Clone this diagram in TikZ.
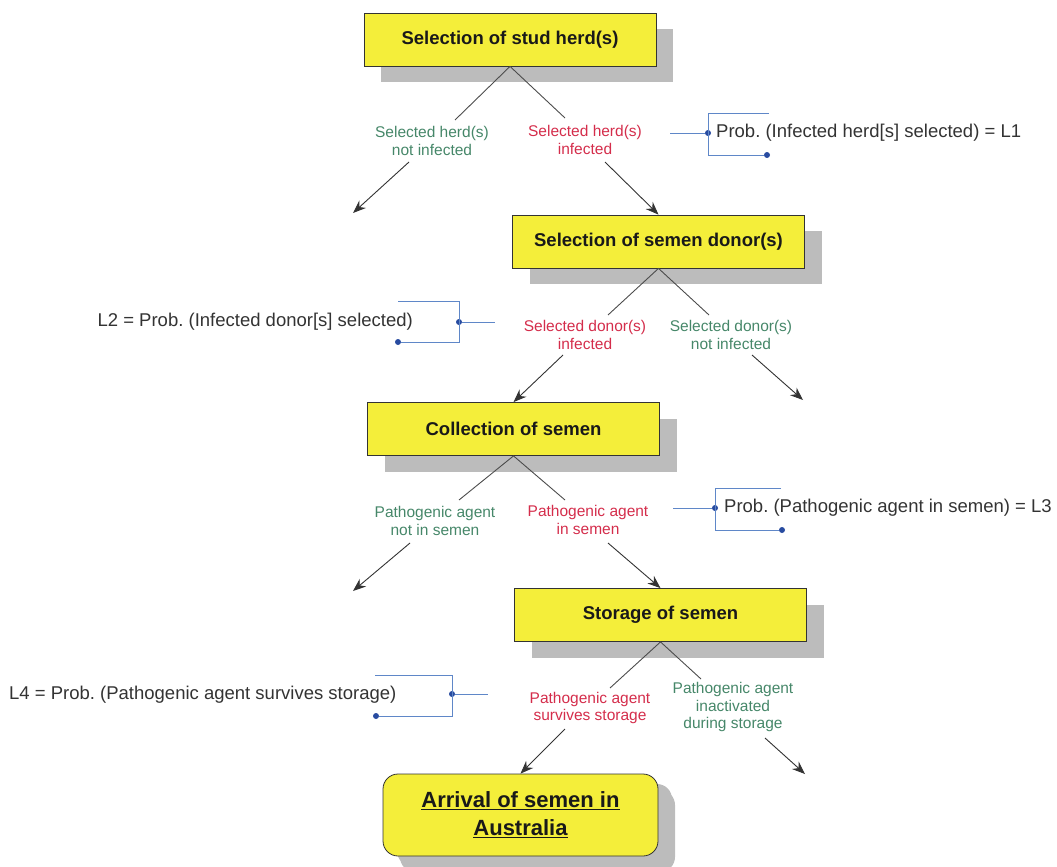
\documentclass[tikz,border=0pt]{standalone}
\usepackage{fontspec}
\setmainfont{Liberation Sans}
\usetikzlibrary{arrows.meta,shadows}
\frenchspacing

\definecolor{boxyellow}{RGB}{244,238,58}
\definecolor{greenlab}{RGB}{70,135,105}
\definecolor{redlab}{RGB}{212,45,75}
\definecolor{bracketblue}{RGB}{95,135,200}
\definecolor{dotblue}{RGB}{40,75,160}
\definecolor{shadowgray}{RGB}{188,188,188}

\tikzset{
  stage/.style={draw=black!80, line width=0.8pt, fill=boxyellow,
    minimum width=292pt, minimum height=53pt, inner sep=0pt,
    font=\bfseries\fontsize{18.5}{22}\selectfont, text=black!90,
    drop shadow={shadow xshift=17pt, shadow yshift=-16pt, fill=shadowgray, opacity=1}},
  lab/.style={align=center, inner sep=0pt, font=\fontsize{15.5}{17.5}\selectfont},
  yes/.style={lab, text=redlab},
  nope/.style={lab, text=greenlab},
  branch/.style={draw=black!70, line width=0.9pt},
  flow/.style={draw=black!80, line width=0.9pt, -{Stealth[length=13pt,width=10pt]}},
  brk/.style={draw=bracketblue, line width=0.8pt},
  bdot/.style={circle, fill=dotblue, inner sep=0pt, minimum size=6pt},
  note/.style={inner sep=0pt, font=\fontsize{18.5}{22}\selectfont, text=black!80},
}

\begin{document}
\begin{tikzpicture}[x=1pt, y=-1pt]
\useasboundingbox (0,0) rectangle (1057,867);

% stages of the pathway
\node[stage] (b1) at (510,39.5) {Selection of stud herd(s)};
\node[stage] (b2) at (658.5,241.5) {Selection of semen donor(s)};
\node[stage] (b3) at (513.5,429) {Collection of semen};
\node[stage] (b4) at (660.5,615) {Storage of semen};
\node[stage, rounded corners=15pt, minimum width=275pt, minimum height=82pt,
      font=\bfseries\fontsize{22}{28}\selectfont, align=center,
      drop shadow={shadow xshift=14pt, shadow yshift=-10pt, fill=shadowgray, opacity=1}]
  (b5) at (520.5,815) {\underline{Arrival of semen in}\\\underline{Australia}};

% outcomes of each stage
\node[nope] (l1n) at (432,141) {Selected herd(s)\\not infected};
\node[yes]  (l1y) at (585,140) {Selected herd(s)\\infected};
\node[yes]  (l2y) at (585,335) {Selected donor(s)\\infected};
\node[nope] (l2n) at (731,335) {Selected donor(s)\\not infected};
\node[nope] (l3n) at (435,521) {Pathogenic agent\\not in semen};
\node[yes]  (l3y) at (588,520) {Pathogenic agent\\in semen};
\node[yes]  (l4y) at (590,708) {Pathogenic agent\\survives storage};
\node[nope] (l4n) at (733,707) {Pathogenic agent\\inactivated\\during storage};

% branch ends and arrow starts
\coordinate (t1n) at (455,120);  \coordinate (t1y) at (565,118);
\coordinate (t2y) at (608,315);  \coordinate (t2n) at (709,315);
\coordinate (t3n) at (459,500);  \coordinate (t3y) at (565,500);
\coordinate (t4y) at (610,688);  \coordinate (t4n) at (701,679);

\coordinate (s1n) at (409,162);  \coordinate (e1n) at (353,213);
\coordinate (s1y) at (605,162);
\coordinate (s2y) at (563,355);
\coordinate (s2n) at (752,355);  \coordinate (e2n) at (803,400);
\coordinate (s3n) at (410,543);  \coordinate (e3n) at (353,591);
\coordinate (s3y) at (608,543);
\coordinate (s4y) at (565,729);
\coordinate (s4n) at (765,738);  \coordinate (e4n) at (805,774);

% branching lines
\draw[branch] (t1n) -- (b1.south) -- (t1y);
\draw[branch] (t2y) -- (b2.south) -- (t2n);
\draw[branch] (t3n) -- (b3.south) -- (t3y);
\draw[branch] (t4y) -- (b4.south) -- (t4n);

% arrows
\draw[flow] (s1n) -- (e1n);
\draw[flow] (s1y) -- (b2.north);
\draw[flow] (s2y) -- (b3.north);
\draw[flow] (s2n) -- (e2n);
\draw[flow] (s3n) -- (e3n);
\draw[flow] (s3y) -- (b4.north);
\draw[flow] (s4y) -- (b5.north);
\draw[flow] (s4n) -- (e4n);

% probability notes with brackets
% L1
\node[bdot] (d1m) at (708,133) {};
\node[bdot] (d1b) at (767,155) {};
\draw[brk] (670,133) -- (d1m);
\draw[brk] (769,113) -- (708,113) -- (708,155) -- (d1b);
\node[note, anchor=west] (p1) at (716,133) {Prob. (Infected herd[s] selected) = L1};

% L2
\node[bdot] (d2m) at (459,322) {};
\node[bdot] (d2b) at (398,342) {};
\draw[brk] (d2m) -- (495,322);
\draw[brk] (398,301) -- (459,301) -- (459,342) -- (d2b);
\node[note, anchor=east] (p2) at (413,322) {L2 = Prob. (Infected donor[s] selected)};

% L3
\node[bdot] (d3m) at (715,508) {};
\node[bdot] (d3b) at (782,530) {};
\draw[brk] (673,508) -- (d3m);
\draw[brk] (781,488) -- (715,488) -- (715,530) -- (d3b);
\node[note, anchor=west] (p3) at (724,508) {Prob. (Pathogenic agent in semen) = L3};

% L4
\node[bdot] (d4m) at (452,694) {};
\node[bdot] (d4b) at (376,716) {};
\draw[brk] (d4m) -- (488,694);
\draw[brk] (375,675) -- (452,675) -- (452,716) -- (d4b);
\node[note, anchor=west] (p4) at (9,695) {L4 = Prob. (Pathogenic agent survives storage)};
\end{tikzpicture}
\end{document}
